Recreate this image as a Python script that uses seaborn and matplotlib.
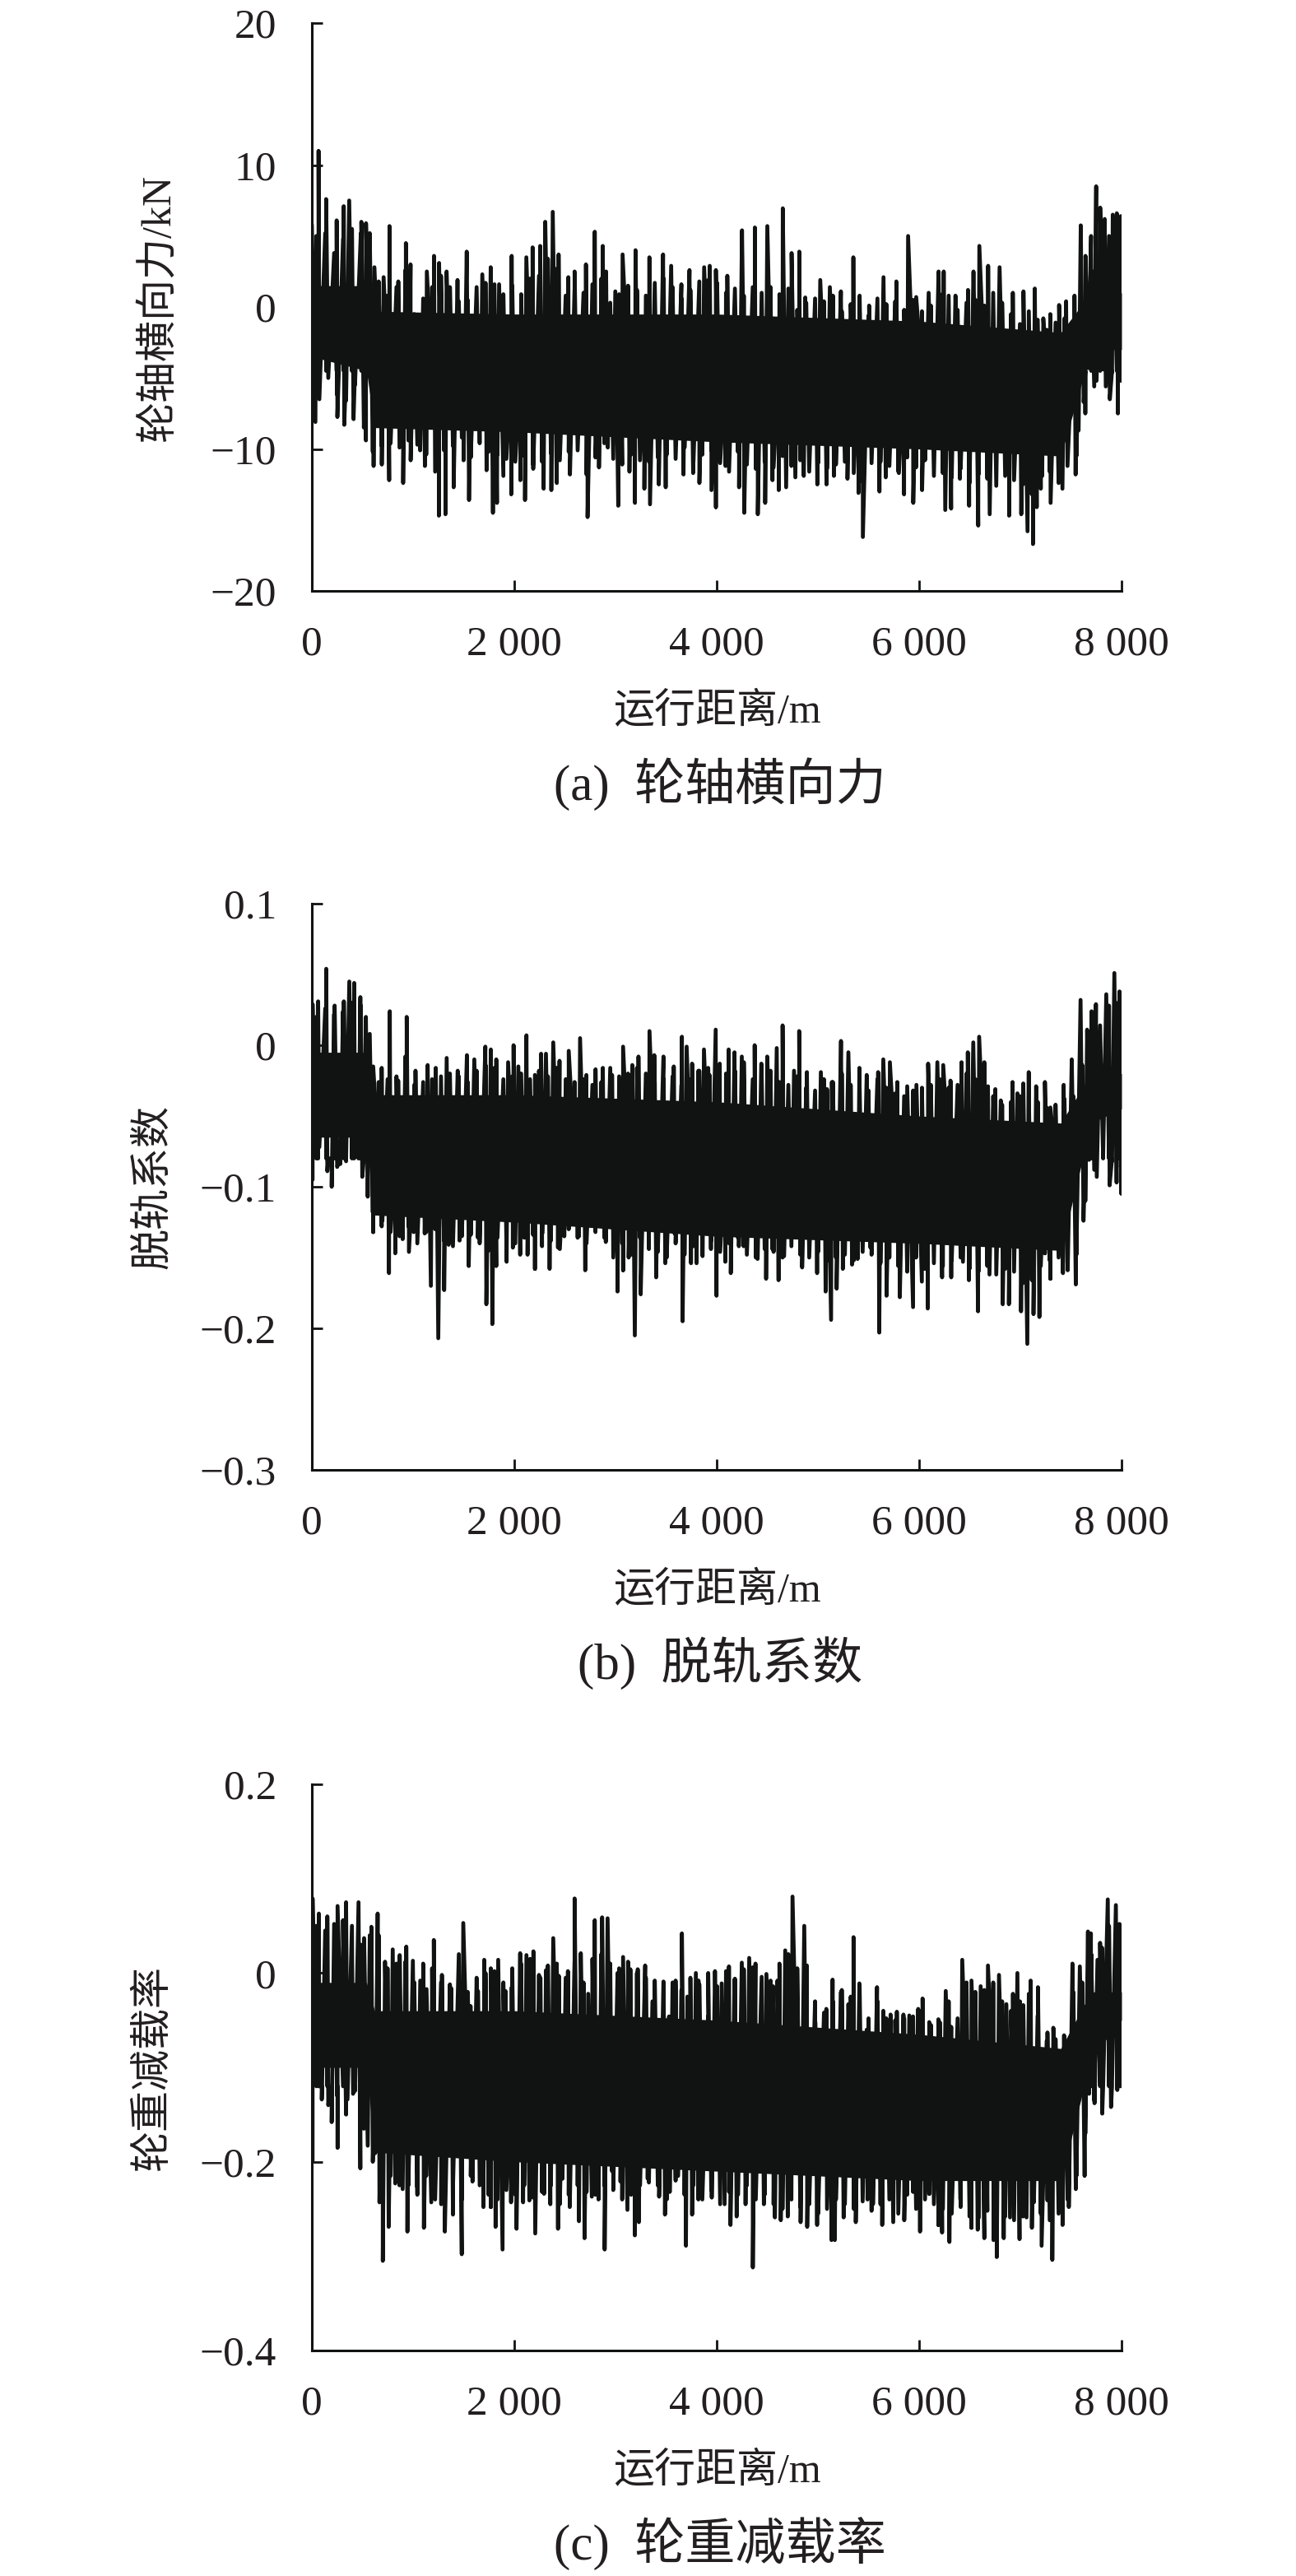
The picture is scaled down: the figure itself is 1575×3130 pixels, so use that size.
import numpy as np
import pandas as pd
import matplotlib
matplotlib.use("Agg")
import matplotlib.pyplot as plt
import seaborn as sns

# peaks, distance in m
a_top_x = [0,66,141,245,315,369,489,535,618,709,767,854,929,975,1058,1136,1207,1257,1331,1439,1530,1684,1767,1850,1974,2119,2181,2256,2306,2380,2438,2534,2596,2708,2795,2874,2907,2998,
           3070,3198,3335,3470,3550,3651,3731,3876,3931,3992,4105,4250,4377,4500,4653,4740,4816,4875,5023,5118,5227,5350,5412,5506,5648,5775,5891,5971,6094,6192,6243,6359,6483,6537,6595,6682,6795,6926,7031,7143,7227,7296,7383,7452,7535,7597,7644,7699,7749,7789,7833,7913,7953,7993]
a_top_y = [5.8,11.0,7.6,6.1,7.1,7.5,6.0,5.9,2.8,2.1,5.7,1.8,4.5,3.0,-0.9,2.5,3.6,3.1,2.5,1.9,3.9,2.3,2.8,1.6,3.6,3.5,4.2,4.3,6.0,6.7,3.7,2.1,2.5,3.0,5.3,4.3,2.5,1.1,
           3.7,4.0,3.5,3.7,2.9,1.6,2.6,2.8,2.9,2.6,2.2,5.4,5.6,5.7,6.95,3.8,3.9,0.67,1.9,1.4,1.1,3.5,0.8,0.1,2.1,1.8,5.0,0.7,1.0,2.5,2.5,0.8,1.2,2.5,4.3,2.9,2.8,1.0,1.1,1.3,-0.8,-0.5,0.14,0.4,0.8,5.75,3.6,5.0,8.5,7.0,6.2,6.5,6.6,6.4]
a_bot_x = [35,252,320,412,534,610,691,764,902,976,1070,1117,1255,1320,1401,1499,1553,1667,1726,1789,1829,1892,1970,2060,2106,2187,2290,2366,2420,2550,2724,2837,2924,3027,3138,3192,3285,3341,3428,3496,3672,3767,3829,3948,3992,
           4087,4221,4272,4406,4479,4551,4613,4686,4777,4860,4994,5085,5158,5292,5401,5444,5608,5670,5800,5851,5942,6029,6258,6316,6403,6494,6584,6697,6889,7009,7071,7125,7162,7216,7299,7416,7546,7575,7626,7670,7753,7844,7884,7964,8000]
a_bot_y = [-8.1,-7.75,-8.3,-7.9,-9.4,-11.2,-11.1,-12.2,-12.4,-10.8,-10.1,-11.2,-14.7,-14.6,-12.7,-10.8,-13.6,-8.2,-11.5,-14.5,-13.8,-11.9,-13.2,-12.2,-13.6,-11.4,-12.8,-12.9,-12.4,-11.8,-14.8,-11.3,-9.9,-14.0,-11.6,-13.8,-12.8,-13.9,-12.5,-12.7,-11.8,-11.7,-12.4,-12.9,-14.1,
           -11.2,-12.7,-14.5,-14.6,-13.8,-12.2,-12.9,-12.7,-12.0,-11.9,-12.5,-12.5,-11.9,-12.1,-13.1,-16.2,-13.0,-12.0,-11.7,-13.2,-13.8,-12.9,-14.3,-14.2,-12.1,-14.0,-15.4,-14.6,-14.7,-14.6,-15.8,-16.7,-14.1,-11.9,-13.8,-12.8,-11.8,-8.7,-6.7,-4.3,-5.2,-5.6,-6.5,-7.5,-5.0]

b_top_x = [7,62,142,225,316,370,418,479,534,606,690,770,853,937,1024,1144,1224,1332,1441,1532,1605,1714,1768,1822,1939,1993,2040,2120,2204,2265,2313,2385,2447,2538,2650,2712,2803,2875,2966,3075,3166,3227,3336,3383,3474,3576,3656,3703,3757,3819,
           3874,3929,3990,4030,4118,4176,4248,4375,4441,4499,4593,4651,4764,4815,4891,5029,5090,5138,5228,5301,5410,5482,5595,5646,5711,5784,5882,5973,6089,6180,6238,6310,6419,6481,6535,6593,6680,6753,6807,6923,6971,7029,7083,7156,7243,7297,7428,7508,7595,7660,7704,7747,7849,7929,7980,8000]
b_top_y = [.029,.031,.054,.028,.031,.045,.044,.034,.020,-.015,-.016,.024,-.025,.020,-.018,-.014,-.016,-.009,-.018,-.007,-.010,-.001,-.003,-.010,-.012,0,-.015,.007,-.021,-.006,-.006,.002,-.011,-.004,.005,-.021,-.017,-.016,-.021,-.001,-.014,-.008,.010,-.007,-.008,-.015,.006,-.001,-.013,-.018,
           -.003,-.021,.011,-.013,-.003,-.005,-.008,0,-.013,-.008,-.002,.014,-.018,.010,-.019,-.019,-.031,-.026,.003,-.005,-.016,-.021,-.019,-.010,-.012,-.026,-.029,-.028,-.013,-.012,-.014,-.025,-.012,-.005,.002,.006,-.029,-.031,-.039,-.026,-.034,-.027,-.019,-.029,-.026,-.044,-.028,-.010,.032,.011,.024,.029,.036,.051,.038,.025]
b_bot_x = [7,153,196,280,334,461,498,552,606,697,762,824,897,959,1006,1115,1176,1249,1307,1351,1459,1550,1641,1724,1783,1822,1924,1986,2058,2131,2204,2276,2349,2432,2494,2639,2701,2821,2904,3020,3075,3130,3191,3249,3329,3402,3492,3583,3663,3746,3801,
           3860,3943,3998,4085,4139,4219,4266,4404,4488,4550,4611,4666,4844,4992,5076,5130,5185,5246,5337,5392,5519,5606,5678,5809,5940,6027,6085,6227,6317,6433,6492,6582,6695,6826,6887,7007,7069,7130,7188,7243,7297,7421,7468,7548,7624,7679,7755,7816,7882,7951,7998]
b_bot_y = [-.095,-.089,-.100,-.084,-.076,-.077,-.093,-.107,-.132,-.124,-.161,-.147,-.137,-.146,-.132,-.133,-.170,-.207,-.173,-.141,-.138,-.156,-.136,-.183,-.197,-.156,-.153,-.143,-.148,-.148,-.158,-.133,-.158,-.143,-.135,-.135,-.159,-.127,-.139,-.174,-.159,-.150,-.205,-.176,-.125,-.164,-.154,-.133,-.195,-.154,-.154,
           -.149,-.144,-.177,-.153,-.161,-.142,-.142,-.151,-.165,-.144,-.166,-.149,-.157,-.161,-.174,-.194,-.172,-.158,-.155,-.151,-.143,-.203,-.177,-.178,-.185,-.167,-.186,-.164,-.164,-.153,-.166,-.188,-.162,-.183,-.183,-.188,-.211,-.190,-.192,-.147,-.165,-.161,-.159,-.169,-.124,-.081,-.093,-.076,-.099,-.097,-.105]

c_top_x = [7,69,153,254,338,461,516,588,650,723,799,868,933,998,1071,1133,1205,1285,1376,1496,1568,1641,1703,1768,1841,1913,1975,2058,2120,2189,2258,2313,2385,2440,2530,2596,2657,2730,2795,2868,2922,3020,3075,3147,3220,3293,3365,3474,3529,3594,3656,3710,3794,
           3820,3914,3983,4049,4121,4176,4248,4321,4383,4491,4557,4600,4677,4749,4793,4865,4891,4974,5083,5145,5228,5301,5352,5410,5482,5584,5646,5718,5780,5845,5903,5991,6034,6100,6190,6263,6317,6426,6517,6608,6680,6789,6862,6927,6971,7029,7102,7174,7268,7326,7432,7515,7588,7668,7697,7762,7806,7864,7944,7980]
c_top_y = [.079,.063,.060,.071,.075,.075,.037,.049,.063,.012,.025,.019,.028,.013,-.008,-.017,.035,-.002,-.016,.053,-.035,-.019,.014,.005,.014,-.019,-.015,.021,.019,.023,-.005,.003,.037,-.003,.002,.079,.021,-.022,.056,.059,.058,0,.017,.004,.004,.008,-.030,-.009,-.046,-.008,.042,-.025,0,
           -.008,-.046,.002,-.011,.007,-.007,.011,.016,.010,-.001,-.014,-.008,.024,.081,-.007,.050,.008,-.052,-.038,-.007,-.020,-.033,.038,-.011,-.060,-.015,-.040,-.044,-.041,-.044,-.045,-.038,-.027,-.052,-.049,-.019,-.057,.014,-.008,-.014,.008,-.002,-.033,-.022,0,-.034,-.008,-.015,-.063,-.058,-.066,.010,.007,.044,.042,.014,.027,.078,.072,.052]
c_bot_x = [7,98,196,254,352,407,479,552,625,668,701,759,824,897,944,1042,1107,1180,1278,1314,1394,1481,1587,1695,1768,1815,1884,1968,2022,2087,2149,2207,2294,2356,2432,2476,2548,2639,2694,2766,2832,2893,2966,3049,3118,3191,3231,3318,3431,3489,3536,3619,3696,3757,3819,
           3951,4078,4136,4197,4285,4357,4466,4575,4633,4702,4829,4894,4992,5134,5167,5254,5374,5490,5544,5635,5744,5853,5940,6009,6100,6190,6227,6299,6408,6517,6579,6644,6735,6767,6836,6898,6992,7061,7134,7210,7268,7316,7417,7479,7548,7635,7679,7733,7809,7896,7958,7995]
c_bot_y = [-.199,-.134,-.158,-.185,-.134,-.128,-.207,-.183,-.191,-.243,-.305,-.269,-.223,-.229,-.274,-.227,-.270,-.243,-.245,-.274,-.256,-.298,-.221,-.248,-.248,-.269,-.293,-.243,-.271,-.243,-.241,-.276,-.234,-.245,-.271,-.218,-.248,-.263,-.281,-.237,-.240,-.293,-.210,-.221,-.251,-.278,-.264,-.218,-.237,-.256,-.232,-.215,-.289,-.256,-.240,
           -.238,-.245,-.267,-.258,-.245,-.312,-.245,-.259,-.262,-.258,-.264,-.269,-.267,-.283,-.283,-.259,-.264,-.240,-.245,-.267,-.264,-.262,-.232,-.274,-.234,-.267,-.275,-.285,-.240,-.270,-.272,-.281,-.283,-.301,-.281,-.259,-.282,-.259,-.243,-.289,-.241,-.304,-.267,-.248,-.229,-.215,-.128,-.138,-.149,-.142,-.124,-.106]

# smaller strokes between the big peaks, one every 88 m starting at 44 m
a_mid_top = [5.0,5.2,3.8,4.8,5.5,5.2,5.2,1.8,0.8,1.4,
             2.6,-0.5,0.6,1.4,2.2,1.4,0.4,0.5,1.4,1.7,
             1.6,0.9,1.5,0.9,2.0,2.2,3.4,2.7,0.8,1.2,
             1.0,1.6,2.0,0.3,0.9,1.5,1.2,0.8,1.7,2.0,
             1.4,0.6,1.2,1.8,1.9,1.7,1.0,1.3,0.8,1.4,
             1.0,1.4,0.9,1.3,-0.2,0.3,0.6,0.4,0.8,-0.3,
             0.2,-0.4,-0.6,0.6,0.2,0.4,-0.2,0.5,-0.3,0.1,
             0.9,0.8,-0.2,0.3,0.5,0.1,1.0,0.3,-0.5,-1.2,
             -0.3,-0.9,-1.6,-1.1,-0.8,-1.3,0.3,2.6,3.6,5.0,
             5.4]
a_mid_bot = [-6.5,-5.0,-6.2,-6.6,-5.5,-8.5,-10.2,-9.8,-9.6,-9.9,
             -9.4,-9.7,-10.4,-11.6,-10.1,-9.8,-9.2,-10.6,-9.6,-10.2,
             -10.4,-10.7,-10.9,-10.5,-11.1,-10.9,-10.3,-10.8,-10.2,-10.1,
             -11.8,-10.6,-9.6,-10.7,-11.1,-10.4,-10.8,-10.9,-10.6,-10.4,
             -10.7,-9.9,-10.9,-10.4,-10.1,-11.0,-11.6,-10.2,-11.1,-11.4,
             -10.9,-11.3,-10.5,-11.2,-10.8,-11.6,-11.0,-11.4,-11.1,-10.9,
             -11.7,-12.3,-11.0,-10.9,-11.2,-11.6,-10.6,-11.3,-10.8,-11.9,
             -11.7,-12.0,-11.4,-12.4,-11.8,-12.1,-12.6,-11.9,-12.2,-12.5,
             -13.2,-12.8,-11.6,-12.4,-11.2,-10.5,-7.5,-5.6,-4.4,-4.6,
             -5.2]
b_mid_top = [.020,.026,.022,.024,.030,.028,.008,-.026,-.024,-.022,
             -.008,-.028,-.026,-.024,-.022,-.020,-.022,-.026,-.018,-.014,
             -.016,-.024,-.022,-.020,-.024,-.018,-.022,-.016,-.024,-.026,
             -.024,-.028,-.026,-.016,-.022,-.020,-.016,-.020,-.026,-.024,
             -.022,-.028,-.024,-.018,-.016,-.024,-.020,-.018,-.012,-.024,
             -.020,-.018,-.026,-.028,-.022,-.030,-.032,-.024,-.026,-.020,
             -.028,-.030,-.032,-.024,-.030,-.034,-.036,-.032,-.030,-.028,
             -.024,-.030,-.028,-.020,-.024,-.012,-.036,-.042,-.040,-.036,
             -.036,-.040,-.044,-.042,-.038,-.036,-.014,.010,.014,.028,
             .030]
b_mid_bot = [-.072,-.080,-.086,-.082,-.072,-.078,-.118,-.128,-.132,-.135,
             -.128,-.140,-.132,-.130,-.138,-.142,-.135,-.134,-.140,-.145,
             -.136,-.138,-.140,-.136,-.134,-.142,-.138,-.144,-.130,-.136,
             -.140,-.132,-.136,-.150,-.140,-.148,-.136,-.144,-.146,-.150,
             -.140,-.148,-.142,-.144,-.138,-.146,-.140,-.136,-.148,-.150,
             -.144,-.146,-.150,-.142,-.148,-.150,-.146,-.152,-.150,-.148,
             -.152,-.146,-.148,-.154,-.150,-.156,-.160,-.150,-.158,-.154,
             -.156,-.152,-.150,-.158,-.160,-.156,-.162,-.158,-.160,-.168,
             -.166,-.156,-.152,-.150,-.154,-.148,-.110,-.088,-.078,-.082,
             -.086]
c_mid_top = [.050,.045,.052,.056,.050,.030,.040,.040,.005,.010,
             .012,-.010,.010,.005,-.010,-.012,.020,-.020,-.005,.000,
             .002,-.010,.005,.010,.015,-.002,.008,.010,-.005,.012,
             -.010,.015,.020,.010,.005,.012,.000,-.005,-.008,-.015,
             -.010,-.018,-.005,-.012,.000,-.014,.002,-.006,.004,.006,
             -.004,-.008,.010,.020,.005,-.020,-.030,-.042,-.030,-.018,
             -.025,-.015,-.048,-.030,-.048,-.050,-.048,-.046,-.040,-.055,
             -.052,-.030,-.048,-.010,-.020,-.018,-.010,-.030,-.040,-.030,
             -.022,-.045,-.072,-.070,-.074,-.020,-.010,.020,.032,.050,
             .045]
c_mid_bot = [-.120,-.140,-.130,-.150,-.125,-.165,-.200,-.235,-.215,-.225,
             -.225,-.235,-.215,-.240,-.225,-.228,-.240,-.215,-.225,-.235,
             -.240,-.230,-.235,-.225,-.238,-.232,-.225,-.245,-.235,-.225,
             -.232,-.235,-.225,-.230,-.240,-.235,-.225,-.222,-.225,-.240,
             -.220,-.235,-.225,-.240,-.230,-.245,-.232,-.235,-.225,-.240,
             -.235,-.245,-.250,-.240,-.248,-.245,-.255,-.250,-.240,-.245,
             -.250,-.242,-.252,-.245,-.240,-.255,-.235,-.250,-.240,-.245,
             -.250,-.255,-.248,-.258,-.260,-.252,-.262,-.258,-.262,-.258,
             -.270,-.255,-.262,-.255,-.240,-.215,-.170,-.135,-.120,-.115,
             -.115]

# solid part of the trace, where the strokes run together
band_x = [0,540,620,2000,4000,6000,7400,7700,8000]
a_band_hi = [1.5,1.5,-0.3,-0.5,-0.5,-1,-1.8,1,1]
a_band_lo = [-3.5,-4.5,-8.5,-8.8,-9.5,-10,-10.5,-3,-3]
b_band_hi = [-.005,-.005,-.035,-.035,-.04,-.05,-.055,-.02,-.02]
b_band_lo = [-.065,-.065,-.12,-.125,-.135,-.14,-.145,-.055,-.045]
c_band_hi = [-.01,-.01,-.04,-.04,-.05,-.065,-.08,-.02,-.02]
c_band_lo = [-.1,-.1,-.19,-.2,-.21,-.22,-.22,-.09,-.05]

x_ticks = [0,2000,4000,6000,8000]
x_labels = ["0","2 000","4 000","6 000","8 000"]
a_ticks = [-20,-10,0,10,20]
a_labels = ["\u221220","\u221210","0","10","20"]
b_ticks = [-.3,-.2,-.1,0,.1]
b_labels = ["\u22120.3","\u22120.2","\u22120.1","0","0.1"]
c_ticks = [-.4,-.2,0,.2]
c_labels = ["\u22120.4","\u22120.2","0","0.2"]

sns.set_theme(style="ticks")
plt.rcParams['font.family'] = ['Liberation Serif', 'Noto Sans CJK SC']
plt.rcParams['axes.unicode_minus'] = False

INK = "#111312"
TXT = "#231f20"
W, H = 1575, 3130


def trace(tx, ty, bx, by, mt, mb, core):
    # walk all strokes left to right, two on the same side go back through the core
    mid_x = 44 + 88 * np.arange(len(mt))
    pts = sorted([(x, y, 1) for x, y in zip(list(tx) + list(mid_x), list(ty) + list(mt))] +
                 [(x, y, 0) for x, y in zip(list(bx) + list(mid_x + 30), list(by) + list(mb))])
    xs, ys = [], []
    prev = None
    for x, y, s in pts:
        if s == prev:
            xs.append(x)
            ys.append(core)
        xs.append(min(x, 8000))
        ys.append(y)
        prev = s
    return pd.DataFrame({"dist": xs, "val": ys})


panels = [
    (28, 718, a_top_x, a_top_y, a_bot_x, a_bot_y, a_mid_top, a_mid_bot, -4.5, a_band_hi, a_band_lo, a_ticks, a_labels, "轮轴横向力/kN", "(a)  轮轴横向力", 216),
    (1098, 1786, b_top_x, b_top_y, b_bot_x, b_bot_y, b_mid_top, b_mid_bot, -.08, b_band_hi, b_band_lo, b_ticks, b_labels, "脱轨系数", "(b)  脱轨系数", 210),
    (2168, 2856, c_top_x, c_top_y, c_bot_x, c_bot_y, c_mid_top, c_mid_bot, -.12, c_band_hi, c_band_lo, c_ticks, c_labels, "轮重减载率", "(c)  轮重减载率", 210),
]

fig = plt.figure(figsize=(W / 100, H / 100), dpi=100)
for top, bot, tx, ty, bx, by, mt, mb, core, hi, lo, ticks, labels, ylab, cap, ylab_x in panels:
    ax = fig.add_axes([379 / W, 1 - bot / H, 984 / W, (bot - top) / H])
    ax.fill_between(band_x, lo, hi, color=INK, lw=0)
    sns.lineplot(data=trace(tx, ty, bx, by, mt, mb, core), x="dist", y="val", sort=False, estimator=None,
                 color=INK, lw=3.4, ax=ax)
    ax.set_xlim(0, 8000)
    ax.set_ylim(ticks[0], ticks[-1])
    ax.set_xticks(x_ticks)
    ax.set_xticklabels(x_labels)
    ax.set_yticks(ticks)
    ax.set_yticklabels(labels)
    ax.tick_params(axis="both", direction="in", length=9.5, width=2, color=INK, labelsize=37, labelcolor=TXT)
    ax.tick_params(axis="x", pad=30)
    ax.tick_params(axis="y", pad=31)
    sns.despine(ax=ax)
    for side in ["left", "bottom"]:
        ax.spines[side].set_linewidth(2.2)
        ax.spines[side].set_color(INK)
    ax.set_xlabel("")
    ax.set_ylabel(ylab, fontsize=36, color=TXT)
    ax.yaxis.set_label_coords((ylab_x - 379) / 984, 0.5)
    fig.text(871 / W, 1 - (bot + 148) / H, "运行距离/m", fontsize=36, color=TXT, ha="center", va="center")
    fig.text(875 / W, 1 - (bot + 235) / H, cap, fontsize=44, color=TXT, ha="center", va="center")

fig.savefig("out.png", dpi=100)
